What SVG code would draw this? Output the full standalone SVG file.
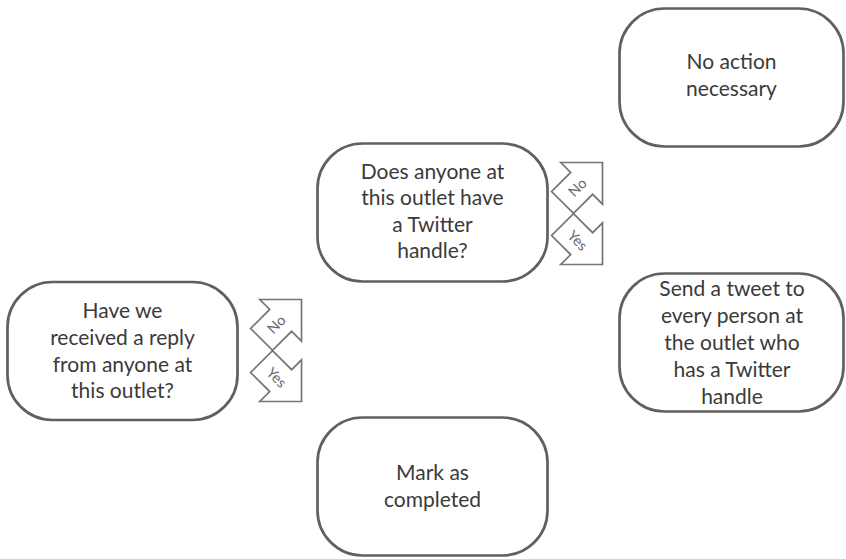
<svg xmlns="http://www.w3.org/2000/svg" width="846" height="559" viewBox="0 0 846 559">
<defs>
<style>
.node{fill:#fff;stroke:#606060;stroke-width:2.7}
.t{font-family:Lato,"Open Sans","Liberation Sans",sans-serif;font-size:21px;fill:#3a3a3a;text-anchor:middle}
.arr{fill:#fff;stroke:#747474;stroke-width:1.7;stroke-linejoin:miter}
.at{font-family:Lato,"Open Sans","Liberation Sans",sans-serif;font-size:14.5px;fill:#6a6a6a;text-anchor:middle}
</style>
<polygon id="arrUp" class="arr" points="0,0 0,41.7 -9.89,31.81 -28.99,50.91 -50.91,28.99 -31.81,9.89 -41.7,0"/>
<polygon id="arrDown" class="arr" points="0,0 0,-41.7 -9.89,-31.81 -28.99,-50.91 -50.91,-28.99 -31.81,-9.89 -41.7,0"/>
</defs>
<rect width="846" height="559" fill="#fff"/>
<g id="connectors">
<g id="left-no" transform="translate(301.5,299.5)"><use href="#arrUp"/><text class="at" transform="translate(-25,25) rotate(-45)" y="5">No</text></g>
<g id="left-yes" transform="translate(301.5,401.5)"><use href="#arrDown"/><text class="at" transform="translate(-25,-24) rotate(45)" y="5">Yes</text></g>
<g id="right-no" transform="translate(602.5,162.5)"><use href="#arrUp"/><text class="at" transform="translate(-25,25) rotate(-45)" y="5">No</text></g>
<g id="right-yes" transform="translate(602.5,264.5)"><use href="#arrDown"/><text class="at" transform="translate(-25,-24) rotate(45)" y="5">Yes</text></g>
</g>
<g id="node-reply">
<rect class="node" x="7.5" y="282" width="230" height="138" rx="45" ry="45"/>
<text class="t" x="122.5" y="318">Have we</text>
<text class="t" x="122.5" y="344.5">received a reply</text>
<text class="t" x="122.5" y="371.5">from anyone at</text>
<text class="t" x="122.5" y="398">this outlet?</text>
</g>
<g id="node-twitter">
<rect class="node" x="317.5" y="143.5" width="230" height="138" rx="45" ry="45"/>
<text class="t" x="432.5" y="178.5">Does anyone at</text>
<text class="t" x="432.5" y="205">this outlet have</text>
<text class="t" x="432.5" y="231.5">a Twitter</text>
<text class="t" x="432.5" y="258">handle?</text>
</g>
<g id="node-noaction">
<rect class="node" x="619.5" y="8.5" width="224" height="138" rx="45" ry="45"/>
<text class="t" x="731.5" y="68.5">No action</text>
<text class="t" x="731.5" y="96">necessary</text>
</g>
<g id="node-tweet">
<rect class="node" x="619.5" y="273.5" width="224" height="138" rx="45" ry="45"/>
<text class="t" x="732" y="295.5">Send a tweet to</text>
<text class="t" x="732" y="322.5">every person at</text>
<text class="t" x="732" y="349.5">the outlet who</text>
<text class="t" x="732" y="376.5">has a Twitter</text>
<text class="t" x="732" y="403.5">handle</text>
</g>
<g id="node-complete">
<rect class="node" x="317.5" y="417.5" width="230" height="138" rx="45" ry="45"/>
<text class="t" x="432.5" y="480">Mark as</text>
<text class="t" x="432.5" y="507">completed</text>
</g>
</svg>
